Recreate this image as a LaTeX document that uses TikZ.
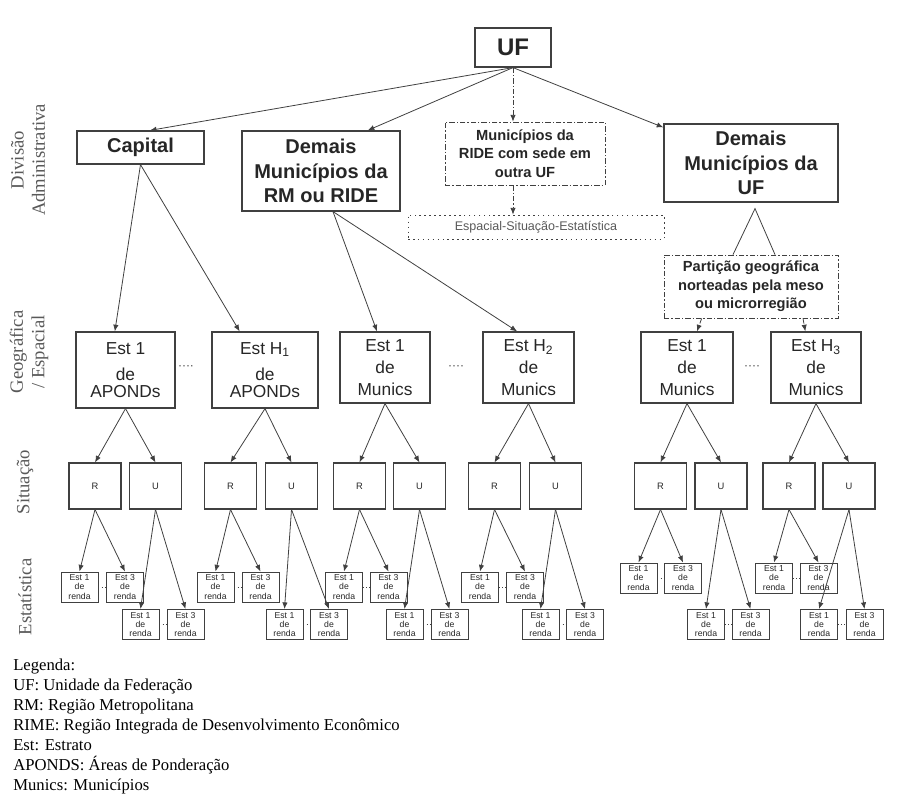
\documentclass[tikz,border=0pt]{standalone}
\usepackage{fontspec}
\setmainfont{Liberation Serif}
\setsansfont{Liberation Sans}
\usepackage{tikz}
\usetikzlibrary{arrows.meta,calc}
\definecolor{linha}{gray}{0.25}
\definecolor{rotulo}{gray}{0.35}
\tikzset{
	sz/.style 2 args={minimum width=#1*0.75pt,minimum height=#2*0.75pt},
	caixa/.style={draw=linha,line width=0.9pt,inner sep=0pt,align=center,text=black!85,font=\sffamily\bfseries\fontsize{15}{18.4}\selectfont},
	tracado/.style={dash pattern=on 4pt off 1.5pt on 1pt off 1.5pt},
	tracejada/.style={caixa,line width=0.6pt,tracado,font=\sffamily\bfseries\fontsize{11}{14}\selectfont},
	pontilhada/.style={caixa,line width=0.6pt,dash pattern=on 1.2pt off 2.5pt,text=rotulo,font=\sffamily\fontsize{9.4}{11}\selectfont},
	estgeo/.style={caixa,font=\sffamily\fontsize{13}{16.5}\selectfont},
	sit/.style={caixa,line width=0.8pt,sz={52}{46},font=\sffamily\fontsize{7}{8}\selectfont},
	estrato/.style={caixa,line width=0.7pt,sz={37}{30},font=\sffamily\fontsize{6.5}{6.8}\selectfont},
	seta/.style={draw=linha,line width=0.6pt,-{Latex[length=5pt,width=4pt]}},
	nivel/.style={rotate=90,align=center,text=rotulo,font=\fontsize{14}{16}\selectfont},
	reticencias/.style={text=linha,font=\sffamily\fontsize{9}{9}\selectfont}
}

\begin{document}
\begin{tikzpicture}[x=0.75pt,y=-0.75pt]
	\useasboundingbox (0,0) rectangle (911,804);
	\node[caixa,sz={76}{39},font=\sffamily\bfseries\fontsize{18}{20}\selectfont] (uf) at (513,47.5) {UF};
	\node[caixa,sz={127}{33}] (cap) at (140.5,147.5) {Capital};
	\node[caixa,sz={158}{80}] (rmr) at (321,171) {Demais\\Municípios da\\RM ou RIDE};
	\node[tracejada,sz={160}{63}] (ride) at (525,153.5) {Municípios da\\RIDE com sede em\\outra UF};
	\node[pontilhada,sz={256}{24}] (esp) at (536,227) {Espacial-Situação-Estatística};
	\node[caixa,sz={174}{78}] (demuf) at (751,163) {Demais\\Municípios da\\UF};
	\node[tracejada,sz={174}{63}] (part) at (751,286.5) {Partição geográfica\\norteadas pela meso\\ou microrregião};
	
	\draw[seta] (uf.south) -- ([xshift=7pt]cap.north);
	\draw[seta] (uf.south) -- ([xshift=35pt]rmr.north);
	\draw[seta,tracado] (uf.south) -- (uf.south |- ride.north);
	\draw[seta,tracado] (ride.south -| uf.south) -- (uf.south |- esp.north);
	\draw[seta] (uf.south) -- ([yshift=-3pt]demuf.north west);
	
	\node[estgeo,sz={99}{76}] (g1) at (125.5,370) {Est 1\\[3.5pt]de\\[-3.75pt]APONDs};
	\node[estgeo,sz={106}{76}] (g2) at (265,370) {Est H\textsubscript{1}\\[3.5pt]de\\[-3.75pt]APONDs};
	\node[estgeo,sz={90}{71}] (g3) at (385,367.5) {Est 1\\de\\Munics};
	\node[estgeo,sz={91}{71}] (g4) at (528.5,367.5) {Est H\textsubscript{2}\\de\\Munics};
	\node[estgeo,sz={92}{71}] (g5) at (687,367.5) {Est 1\\de\\Munics};
	\node[estgeo,sz={90}{71}] (g6) at (816,367.5) {Est H\textsubscript{3}\\de\\Munics};
	\node[reticencias] (p1) at (186,368) {····};
	\node[reticencias] (p2) at (456,368) {····};
	\node[reticencias] (p3) at (752,368) {····};
	
	\draw[seta] (cap.south) -- ([xshift=-8pt]g1.north);
	\draw[seta] (cap.south) -- ([xshift=-19pt]g2.north);
	\draw[seta] ([xshift=9pt]rmr.south) -- ([xshift=-6pt]g3.north);
	\draw[seta] ([xshift=9pt]rmr.south) -- ([xshift=-8.5pt]g4.north);
	\draw[linha,line width=0.6pt] ([xshift=-13.5pt]part.north) -- ([xshift=3pt,yshift=-4.5pt]demuf.south) -- ([xshift=18pt]part.north);
	\draw[seta,tracado] ([xshift=-37pt]part.south) -- ([xshift=7.5pt]g5.north);
	\draw[seta,tracado] ([xshift=39pt]part.south) -- ([xshift=-8pt]g6.north);
	
	\foreach \xr/\xu [count=\i] in {95/155.5,230.5/291.5,359.5/419.5,494.5/555.5,660.5/721,789/849}
	{
		\node[sit] (r\i) at (\xr,486) {R};
		\node[sit] (u\i) at (\xu,486) {U};
		\draw[seta] (g\i.south) -- (r\i.north);
		\draw[seta] (g\i.south) -- (u\i.north);
	}
	
	\foreach \pai/\xa/\xb/\y in {r1/79.5/125/587,r2/215.5/260.5/587,r3/344/388.5/587,r4/480/525/587,r5/638.5/683/578,r6/774/818.5/578,u1/140.5/185.5/624.5,u2/284.5/329/624.5,u3/404.5/449.5/624.5,u4/540.5/585/624.5,u5/706/750.5/624.5,u6/819/864.5/624.5}
	{
		\node[estrato] (\pai-1) at (\xa,\y) {Est 1\\de\\renda};
		\node[estrato] (\pai-3) at (\xb,\y) {Est 3\\de\\renda};
		\draw[linha,dotted] (\pai-1) -- (\pai-3);
		\draw[seta] (\pai.south) -- (\pai-1.north);
		\draw[seta] (\pai.south) -- (\pai-3.north);
	}
	
	\node[nivel] (divadm) at (28,160) {Divisão\\Administrativa};
	\node[nivel] (geoesp) at (29,352) {Geográfica\\/ Espacial};
	\node[nivel] (sitlab) at (25,482) {Situação};
	\node[nivel] (estlab) at (25,597) {Estatística};
	
	\node[anchor=north west,inner sep=0pt,align=left,font=\fontsize{12.5}{15}\selectfont] (legenda) at (13,659) {Legenda:\\UF: Unidade da Federação\\RM: Região Metropolitana\\RIME: Região Integrada de Desenvolvimento Econômico\\Est: Estrato\\APONDS: Áreas de Ponderação\\Munics: Municípios};
\end{tikzpicture}
\end{document}
